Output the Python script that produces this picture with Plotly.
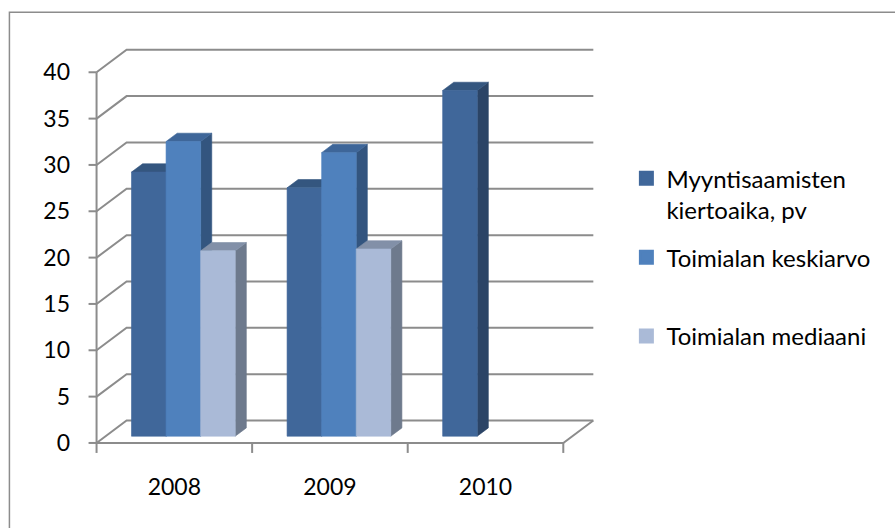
import plotly.graph_objects as go

# --- data -------------------------------------------------------------
years = ["2008", "2009", "2010"]
series_names = [
    "Myyntisaamisten<br>kiertoaika, pv",
    "Toimialan keskiarvo<br> ",
    "Toimialan mediaani",
]
myyntisaamisten = [28.5, 26.8, 37.3]
keskiarvo = [31.8, 30.6, None]
mediaani = [20.0, 20.2, None]
y_tick_values = [0, 5, 10, 15, 20, 25, 30, 35, 40]

# --- styling ----------------------------------------------------------
# (front, top, side) shades for each series
shades = [
    ("#40679A", "#34567F", "#2B4466"),
    ("#4F81BD", "#3E6699", "#33557F"),
    ("#AABAD7", "#8290A8", "#6E7A8D"),
]
GRID = "#8C8C8C"
FONT = "Lato"

# pseudo-3D geometry in data units
PX = 466 / 3.0          # pixels per category
PY = 371 / 40.0         # pixels per value unit
DX = 30 / PX            # full floor depth, horizontal
DY = 22.5 / PY          # full floor depth, vertical
F0 = 0.30               # depth where bar fronts sit
FD = 0.37               # bar depth
SLOT = 1 / 4.5          # bar width (gap width 150 %)

series = [myyntisaamisten, keskiarvo, mediaani]
fig = go.Figure()


def poly(xs, ys, color, width=0.6):
    fig.add_trace(go.Scatter(
        x=xs + [xs[0]], y=ys + [ys[0]], mode="lines", fill="toself",
        fillcolor=color, line=dict(color=color, width=width),
        hoverinfo="skip", showlegend=False))


# walls: value grid on side & back wall
gx, gy = [], []
x_left, x_right = -0.5, len(years) - 0.5
for v in y_tick_values:
    gx += [x_left, x_left + DX, x_right + DX, None]
    gy += [v, v + DY, v + DY, None]
# floor front edge and right edge
gx += [x_left, x_right, x_right + DX, None]
gy += [0, 0, DY, None]
# value axis line
gx += [x_left, x_left, None]
gy += [0, y_tick_values[-1], None]
# tick marks
tl_x = 8 / PX
tl_y = 10 / PY
for v in y_tick_values:
    gx += [x_left - tl_x, x_left, None]
    gy += [v, v, None]
for k in range(len(years) + 1):
    gx += [x_left + k, x_left + k, None]
    gy += [0, -tl_y, None]
fig.add_trace(go.Scatter(x=gx, y=gy, mode="lines",
                         line=dict(color=GRID, width=2),
                         hoverinfo="skip", showlegend=False))

# columns: side, top, then front, left to right
dxf, dyf = F0 * DX, F0 * DY
ddx, ddy = FD * DX, FD * DY
for i in range(len(years)):
    for j, vals in enumerate(series):
        v = vals[i]
        if v is None:
            continue
        front, top, side = shades[j]
        x0 = i - 0.5 + (1 - 3 * SLOT) / 2 + j * SLOT + dxf
        x1 = x0 + SLOT
        b = dyf
        t = dyf + v
        poly([x1, x1, x1 + ddx, x1 + ddx], [b, t, t + ddy, b + ddy], side)
        poly([x0, x0 + ddx, x1 + ddx, x1], [t, t + ddy, t + ddy, t], top)
        poly([x0, x0, x1, x1], [b, t, t, b], front)

# legend entries
for name, (front, _, _) in zip(series_names, shades):
    fig.add_trace(go.Bar(x=[None], y=[None], name=name,
                         marker=dict(color=front, line=dict(color=front, width=3)),
                         legendgroup=name))

# --- layout -----------------------------------------------------------
xr = [x_left - 0.1, x_right + DX + 0.03]
yr = [-1.3, y_tick_values[-1] + DY + 0.3]
L = 97 - 0.1 * PX
W = (xr[1] - xr[0]) * PX
T = 443 - yr[1] * PY
H = (yr[1] - yr[0]) * PY
fig.update_layout(
    width=895, height=528,
    margin=dict(l=L, r=895 - L - W, t=T, b=528 - T - H, pad=0),
    paper_bgcolor="white", plot_bgcolor="white",
    font=dict(family=FONT, size=23, color="#000000"),
    showlegend=True,
    legend=dict(
        x=(626 - L) / W, xanchor="left",
        y=(443 - 156 - yr[0] * PY) / H, yanchor="top",
        valign="top", tracegroupgap=13.5,
        font=dict(family=FONT, size=24, color="#000000"),
        bgcolor="rgba(0,0,0,0)",
    ),
    xaxis=dict(range=xr, tickmode="array", tickvals=list(range(len(years))),
               ticktext=years, ticks="", showgrid=False, zeroline=False,
               showline=False, ticklabelstandoff=16, fixedrange=True),
    yaxis=dict(range=yr, tickmode="array", tickvals=y_tick_values,
               ticks="", showgrid=False, zeroline=False, showline=False,
               ticklabelstandoff=10, fixedrange=True),
    shapes=[dict(type="rect", xref="paper", yref="paper",
                 x0=(10 - L) / W, x1=(900 - L) / W,
                 y0=-(540 - T - H) / H, y1=(T + H - 12) / H,
                 line=dict(color="#8C8C8C", width=1.5), layer="below")],
)

fig.write_html("out.html")
